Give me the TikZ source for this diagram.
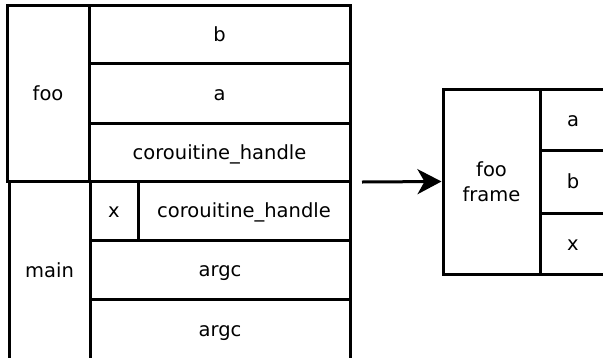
\documentclass[tikz,border=0pt]{standalone}
\usepackage{fontspec}
\setmainfont{DejaVu Sans}
\usetikzlibrary{arrows.meta}
\begin{document}
\begin{tikzpicture}[x=1pt,y=-1pt,
  cell/.style={draw=black,line width=3pt,rectangle,inner sep=0pt,align=center,
    text height=14pt,text depth=0pt,
    font=\fontsize{19.5}{25}\selectfont},
  arr/.style={line width=3pt,-{Stealth[length=24pt,width=25pt,inset=7pt]}}]
\useasboundingbox (0,0) rectangle (603,357);
\clip (0,0) rectangle (603,357);
% foo frame on stack
\node[cell,minimum width=82pt,minimum height=176pt] (foo) at (48,93) {foo};
\node[cell,minimum width=261pt,minimum height=58pt] (b) at (219.5,34) {b};
\node[cell,minimum width=261pt,minimum height=60pt] (a) at (219.5,93) {a};
\node[cell,minimum width=261pt,minimum height=58pt] (ch1) at (219.5,152) {corouitine\_handle};
% main frame
\node[cell,minimum width=81pt,minimum height=179pt] (main) at (49.5,270.5) {main};
\node[cell,minimum width=48pt,minimum height=59pt] (x) at (114,210.5) {x};
\node[cell,minimum width=212pt,minimum height=59pt] (ch2) at (244,210.5) {corouitine\_handle};
\node[cell,minimum width=260pt,minimum height=59pt] (argc1) at (220,269.5) {argc};
\node[cell,minimum width=260pt,minimum height=61pt] (argc2) at (220,329.5) {argc};
% heap frame
\node[cell,minimum width=97pt,minimum height=185pt,text height=39pt] (frame) at (491.5,181.5) {foo\\frame};
\node[cell,minimum width=66pt,minimum height=61pt] (fa) at (573,119.5) {a};
\node[cell,minimum width=66pt,minimum height=63pt] (fb) at (573,181.5) {b};
\node[cell,minimum width=66pt,minimum height=61pt] (fx) at (573,243.5) {x};
% arrow
\coordinate (start) at (362,182);
\draw[arr] (start) -- (frame.west);
\end{tikzpicture}
\end{document}
